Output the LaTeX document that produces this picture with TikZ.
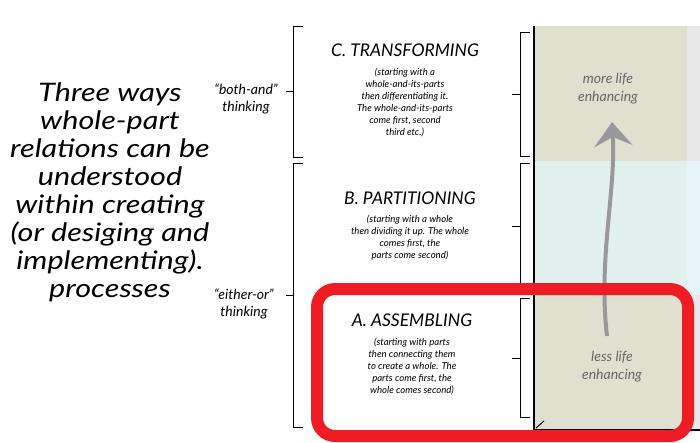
\documentclass[tikz,border=0pt]{standalone}
\usepackage{fontspec}
\setmainfont{Lato}
\newfontfamily\widehand{Lato}[FakeStretch=1.2]
\usepackage{xcolor}
\usetikzlibrary{arrows.meta}

\definecolor{bandolive}{HTML}{DFE0D0}
\definecolor{bandcyan}{HTML}{E2F0EE}
\definecolor{stripgray}{HTML}{E8E8E8}
\definecolor{stripblue}{HTML}{E6F3F8}
\definecolor{markred}{HTML}{EE1C25}
\definecolor{arrowgray}{HTML}{999999}
\definecolor{lifetext}{HTML}{666666}

\tikzset{
    hand/.style={font=\itshape, align=center},
    title/.style={hand, font=\itshape\fontsize{17.5}{18}\selectfont},
    descr/.style={hand, font=\itshape\fontsize{9.6}{12}\selectfont},
    thinking/.style={hand, font=\itshape\fontsize{14}{17}\selectfont},
    life/.style={hand, text=lifetext, font=\itshape\fontsize{14}{18}\selectfont},
    brace/.style={line width=0.9pt},
}

\begin{document}
\begin{tikzpicture}[x=1pt, y=-1pt]
    \useasboundingbox (0, 0) rectangle (700, 442);

    % bands
    \fill[bandolive] (535, 26) rectangle (687, 161);
    \fill[bandcyan] (535, 161) rectangle (687, 295);
    \fill[bandolive] (535, 295) rectangle (687, 430);
    \fill[stripgray] (687, 26) rectangle (700, 161);
    \fill[stripblue] (687, 161) rectangle (700, 295);
    \fill[stripgray] (687, 295) rectangle (700, 430);

    \draw[line width=1.2pt] (534, 26) -- (534, 430) -- (700, 430);
    \draw[line width=1pt] (544, 421) -- (536, 428);

    % left brackets
    \draw[brace] (303, 26) -- (293, 26) -- (293, 157) -- (303, 157);
    \draw[brace] (286, 91) -- (293, 91);
    \draw[brace] (303, 163) -- (293, 163) -- (293, 427) -- (303, 427);
    \draw[brace] (286, 295) -- (293, 295);

    % right brackets
    \draw[brace] (530, 32) -- (520, 32) -- (520, 156) -- (530, 156);
    \draw[brace] (512, 94) -- (520, 94);
    \draw[brace] (530, 163) -- (520, 163) -- (520, 286) -- (530, 286);
    \draw[brace] (512, 226) -- (520, 226);
    \draw[brace] (530, 298) -- (520, 298) -- (520, 417) -- (530, 417);
    \draw[brace] (512, 358) -- (520, 358);

    \node[hand, font=\widehand\itshape\fontsize{25.5}{28}\selectfont] (intro) at (110, 192)
        {Three ways\\whole-part\\relations can be\\understood\\within creating\\(or desiging and\\implementing).\\processes};

    \node[thinking] (both) at (246, 99) {``both-and''\\thinking};
    \node[thinking] (either) at (244, 304) {``either-or''\\thinking};

    \node[title] (trans) at (405, 50) {C. TRANSFORMING};
    \node[descr] (transd) at (405, 102) {(starting with a\\whole-and-its-parts\\then differentiating it.\\The whole-and-its-parts\\come first, second\\third etc.)};

    \node[title] (part) at (410, 198) {B. PARTITIONING};
    \node[descr] (partd) at (410, 238) {(starting with a whole\\then dividing it up. The whole\\comes first, the\\parts come second)};

    \node[title] (ass) at (412, 320) {A. ASSEMBLING};
    \node[descr] (assd) at (412, 366) {(starting with parts\\then connecting them\\to create a whole. The\\parts come first, the\\whole comes second)};

    \node[life] (more) at (608, 89) {more life\\enhancing};
    \node[life] (less) at (612, 367) {less life\\enhancing};

    \coordinate (arrowfoot) at (607, 336);
    \coordinate (arrowtip) at (612, 122);
    \draw[arrowgray, line width=4pt, -{Stealth[length=24pt, width=38pt, inset=9pt]}]
        (arrowfoot) .. controls (598, 260) and (616, 190) .. (arrowtip);

    \draw[markred, line width=12pt, rounded corners=18pt] (317, 289) rectangle (688, 436);
\end{tikzpicture}
\end{document}
